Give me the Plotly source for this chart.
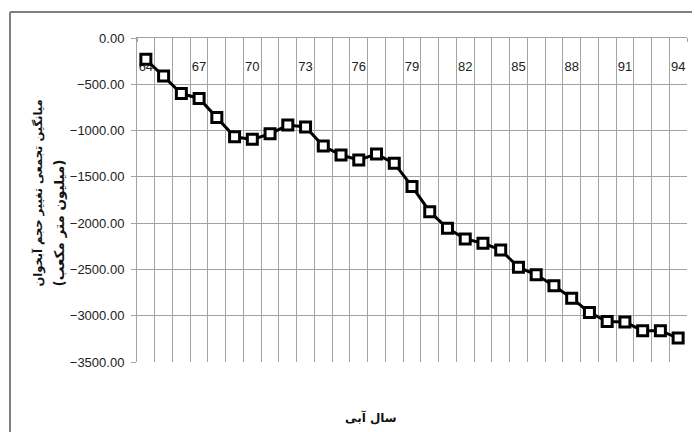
import plotly.graph_objects as go

years = list(range(64, 95))
values = [-230, -410, -600, -653, -858, -1067, -1095, -1035, -941, -961,
          -1167, -1264, -1318, -1254, -1354, -1603, -1876, -2055, -2170, -2217,
          -2289, -2476, -2558, -2677, -2810, -2965, -3062, -3069, -3162, -3162, -3241]
tick_years = list(range(64, 95, 3))
tick_labels = [str(y) for y in tick_years]

y_title_1 = "میانگین تجمعی تغییر حجم آبخوان"
y_title_2 = "(میلیون متر مکعب)"
x_title = "سال آبی"

OFF = 8  # page body margin
W, H = 692, 424
L, R, T, B = 129, 13, 30, 70
pw, ph = W - L - R, H - T - B

def px_x(xw):
    return (xw - OFF - L) / pw

def px_y(yw):
    return (H - B - (yw - OFF)) / ph

fig = go.Figure()
fig.add_trace(go.Scatter(
    x=years, y=values, mode="lines+markers",
    line=dict(color="black", width=3),
    marker=dict(symbol="square", size=10, color="white",
                line=dict(color="black", width=3)),
    showlegend=False, cliponaxis=False,
))

grid_c = "#a3a3a3"
border_c = "#7f7f7f"
fig.update_layout(
    width=W, height=H,
    margin=dict(l=L, r=R, t=T, b=B),
    paper_bgcolor="white", plot_bgcolor="white",
    font=dict(family="Liberation Sans, Arial, sans-serif", size=13, color="#222"),
    xaxis=dict(
        range=[63.5, 94.5], side="top",
        tickmode="array", tickvals=tick_years, ticktext=tick_labels,
        ticks="", ticklabelposition="outside", ticklabelstandoff=-39,
        showgrid=False, zeroline=False, showline=True, linecolor=grid_c, linewidth=1,
        layer="below traces",
        minor=dict(tick0=63.5, dtick=1, showgrid=True, gridcolor=grid_c, gridwidth=1,
                   ticks="inside", ticklen=4, tickcolor=grid_c),
        tickfont=dict(size=13, color="#222"),
    ),
    yaxis=dict(
        range=[-3500, 0], dtick=500, tick0=0, tickformat=".2f",
        ticks="outside", ticklen=5, tickcolor=grid_c, ticklabelstandoff=4,
        showgrid=True, gridcolor=grid_c, gridwidth=1,
        zeroline=False, showline=True, linecolor=grid_c, linewidth=1,
        tickfont=dict(size=13, color="#222"),
    ),
    shapes=[
        dict(type="line", xref="paper", yref="paper",
             x0=px_x(10), x1=px_x(700), y0=px_y(12), y1=px_y(12),
             line=dict(color=border_c, width=2), layer="above"),
        dict(type="line", xref="paper", yref="paper",
             x0=px_x(10), x1=px_x(10), y0=px_y(12), y1=px_y(432),
             line=dict(color=border_c, width=2), layer="above"),
    ],
    annotations=[
        dict(text="<b>" + y_title_1 + "</b>", xref="paper", yref="paper",
             x=px_x(38), y=px_y(289), textangle=-90, showarrow=False,
             xanchor="center", yanchor="bottom",
             font=dict(family="DejaVu Sans, sans-serif", size=11.5, color="#111")),
        dict(text="<b>" + y_title_2 + "</b>", xref="paper", yref="paper",
             x=px_x(58), y=px_y(289), textangle=-90, showarrow=False,
             xanchor="center", yanchor="bottom",
             font=dict(family="DejaVu Sans, sans-serif", size=13.5, color="#111")),
        dict(text="<b>" + x_title + "</b>", xref="paper", yref="paper",
             x=px_x(371), y=px_y(418), showarrow=False,
             xanchor="center", yanchor="middle",
             font=dict(family="DejaVu Sans, sans-serif", size=12, color="#111")),
    ],
)

fig.write_html("out.html")
